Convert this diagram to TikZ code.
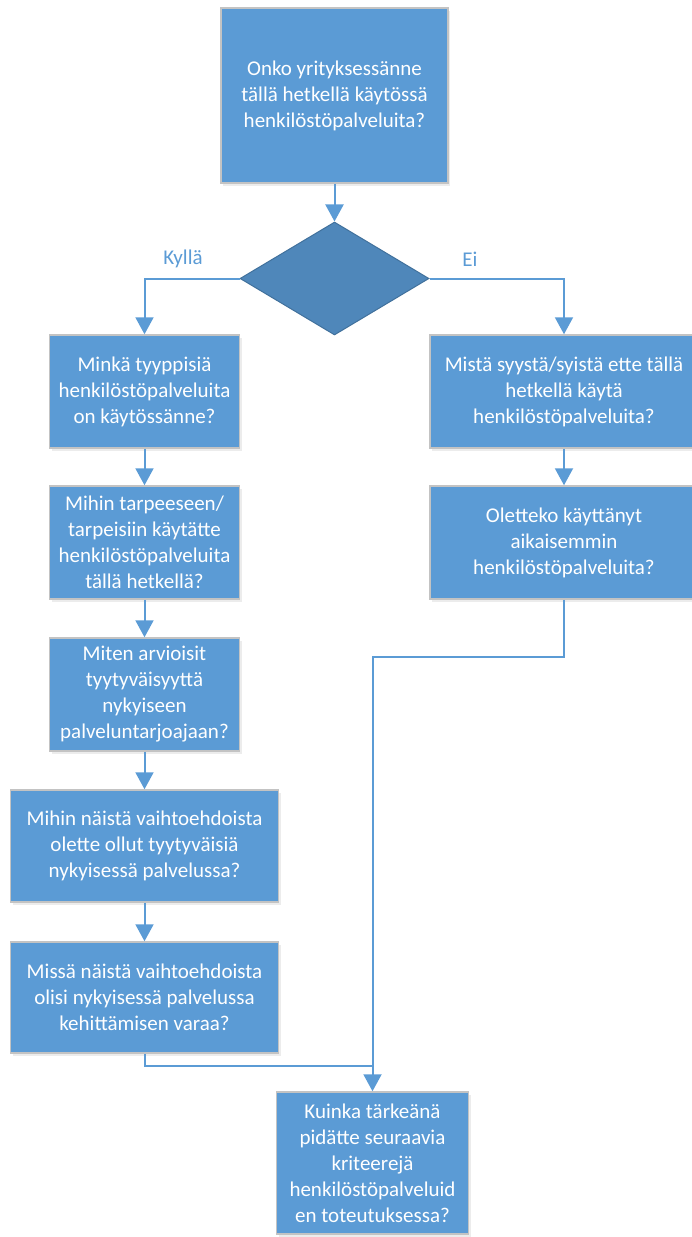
\documentclass[tikz,border=0pt]{standalone}
\usepackage{fontspec}
\setmainfont{Carlito}
\usetikzlibrary{arrows.meta,shapes.geometric,shadows}

\definecolor{boxBlue}{HTML}{5B9BD5}
\definecolor{boxEdge}{HTML}{C3C3C3}
\definecolor{decFill}{HTML}{4F87BA}
\definecolor{decEdge}{HTML}{41719C}

\tikzset{
    qbox/.style={draw=boxEdge, line width=1.5pt, fill=boxBlue, text=white,
        align=center, inner sep=0pt, font=\fontsize{21}{26}\selectfont,
        drop shadow={opacity=0.15, shadow xshift=2pt, shadow yshift=-3pt}},
    decbox/.style={diamond, draw=decEdge, line width=1pt, fill=decFill,
        inner sep=0pt, minimum width=189pt, minimum height=113pt},
    lbl/.style={text=boxBlue, font=\fontsize{21}{26}\selectfont},
    link/.style={draw=boxBlue, line width=2pt},
    flow/.style={link, -{Triangle[width=18pt,length=17pt]}}
}

\begin{document}
\begin{tikzpicture}[x=1pt, y=-1pt]
            \useasboundingbox (0, 0) rectangle (691, 1237);

            \node[qbox, minimum width=227pt, minimum height=175pt] (top) at (334.5, 95.5)
                {Onko yrityksessänne\\tällä hetkellä käytössä\\henkilöstöpalveluita?};
            \node[decbox] (dec) at (334.5, 278.5) {};
            \node[lbl] (yes) at (183, 259) {Kyllä};
            \node[lbl] (no) at (470, 259) {Ei};

            % vasen haara
            \node[qbox, minimum width=190pt, minimum height=113pt] (b1) at (144.5, 391.5)
                {Minkä tyyppisiä\\henkilöstöpalveluita\\on käytössänne?};
            \node[qbox, minimum width=190pt, minimum height=113pt] (b2) at (144.5, 542.5)
                {Mihin tarpeeseen/\\tarpeisiin käytätte\\henkilöstöpalveluita\\tällä hetkellä?};
            \node[qbox, minimum width=190pt, minimum height=113pt] (b3) at (144.5, 694.5)
                {Miten arvioisit\\tyytyväisyyttä\\nykyiseen\\palveluntarjoajaan?};
            \node[qbox, minimum width=268pt, minimum height=112pt] (b4) at (144.5, 846)
                {Mihin näistä vaihtoehdoista\\olette ollut tyytyväisiä\\nykyisessä palvelussa?};
            \node[qbox, minimum width=268pt, minimum height=111pt] (b5) at (144.5, 997.5)
                {Missä näistä vaihtoehdoista\\olisi nykyisessä palvelussa\\kehittämisen varaa?};

            % oikea haara
            \node[qbox, minimum width=268pt, minimum height=113pt] (r1) at (564, 391.5)
                {Mistä syystä/syistä ette tällä\\hetkellä käytä\\henkilöstöpalveluita?};
            \node[qbox, minimum width=268pt, minimum height=113pt] (r2) at (564, 542.5)
                {Oletteko käyttänyt\\aikaisemmin\\henkilöstöpalveluita?};

            \node[qbox, minimum width=192pt, minimum height=142pt] (last) at (372.5, 1163)
                {Kuinka tärkeänä\\pidätte seuraavia\\kriteerejä\\henkilöstöpalveluid\\en toteutuksessa?};

            \coordinate (joinR) at (372.5, 657);
            \coordinate (joinL) at (372.5, 1066);

            \draw[flow] (top) -- (dec);
            \draw[flow] (dec.west) -| (b1.north);
            \draw[flow] (dec.east) -| (r1.north);
            \foreach \upper/\lower in {b1/b2, b2/b3, b3/b4, b4/b5, r1/r2}
                \draw[flow] (\upper.south) -- (\lower.north);
            \draw[flow] (r2.south) |- (joinR) -- (last.north);
            \draw[link] (b5.south) |- (joinL);
        \end{tikzpicture}
\end{document}
